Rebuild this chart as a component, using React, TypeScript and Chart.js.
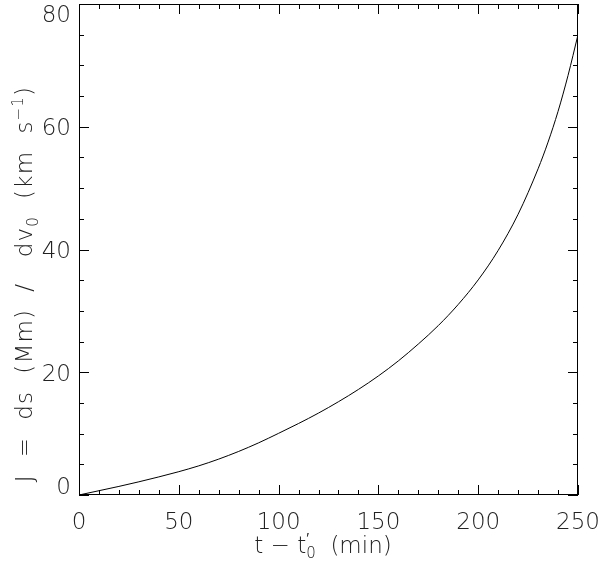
import React, { useEffect, useRef } from "react";
import { Chart, registerables } from "chart.js";

Chart.register(...registerables);

// ---- data ----
const tValues = [0, 10, 20, 30, 40, 50, 60, 70, 80, 90, 100, 110, 120, 130, 140, 150, 160, 170, 180, 190, 200, 210, 220, 230, 235, 240, 245, 250];
const jValues = [0, 0.7, 1.4, 2.15, 2.95, 3.8, 4.75, 5.85, 7.1, 8.5, 10.05, 11.65, 13.35, 15.2, 17.2, 19.4, 21.85, 24.6, 27.6, 31.05, 35.05, 39.85, 45.75, 53.15, 57.5, 62.5, 68.35, 75.0];

const xTickValues = [0, 50, 100, 150, 200, 250];
const xTickLabels = ["0", "50", "100", "150", "200", "250"];
const yTickValues = [0, 20, 40, 60, 80];
const yTickLabels = ["0", "20", "40", "60", "80"];
const xMinorStep = 10;
const yMinorStep = 5;
const xRange = [0, 250];
const yRange = [0, 80];

// rich text pieces: [text, kind]
const yTitleParts: [string, string][] = [
  ["J  =  ds  (Mm)  /   dv", "n"],
  ["0", "sub"],
  ["  (km  s", "n"],
  ["\u22121", "sup"],
  [")", "n"],
];
const xTitleParts: [string, string][] = [
  ["t \u2212 t", "n"],
  ["\u2032", "supPrime"],
  ["0", "subPrime"],
  ["  (min)", "n"],
];

const FONT_FAMILY = '"DejaVu Sans", "Liberation Sans", sans-serif';
const FONT_SIZE = 23;
const TEXT_COLOR = "#222";

function fontOf(size: number) {
  return `200 ${size}px ${FONT_FAMILY}`;
}

function partMetrics(ctx: CanvasRenderingContext2D, parts: [string, string][]) {
  let total = 0;
  const items = parts.map(([t, kind]) => {
    const size = kind === "n" ? FONT_SIZE : Math.round(FONT_SIZE * 0.66);
    ctx.font = fontOf(size);
    const w = ctx.measureText(t).width;
    let dy = 0;
    if (kind === "sub") dy = 6;
    if (kind === "sup") dy = -9;
    if (kind === "supPrime") dy = -10;
    if (kind === "subPrime") dy = 5;
    const item = { t, size, w, dy, x: total, kind };
    if (kind !== "supPrime") total += w;
    return item;
  });
  return { items, total };
}

function drawRich(ctx: CanvasRenderingContext2D, parts: [string, string][], cx: number, baseline: number, spacing = 0) {
  (ctx as any).letterSpacing = `${spacing}px`;
  const { items, total } = partMetrics(ctx, parts);
  const start = cx - total / 2;
  ctx.textAlign = "left";
  ctx.textBaseline = "alphabetic";
  for (const it of items) {
    ctx.font = fontOf(it.size);
    ctx.fillText(it.t, start + it.x, baseline + it.dy);
  }
  (ctx as any).letterSpacing = "0px";
}

const idlAxesPlugin = {
  id: "idlAxes",
  afterDraw(chart: any) {
    const { ctx, chartArea: a, scales } = chart;
    const xs = scales.x;
    const ys = scales.y;
    ctx.save();
    ctx.strokeStyle = "#000";
    ctx.lineWidth = 1;
    ctx.strokeRect(a.left + 0.5, a.top + 0.5, a.right - a.left - 1, a.bottom - a.top - 1);

    ctx.beginPath();
    for (let v = xRange[0]; v <= xRange[1] + 1e-9; v += xMinorStep) {
      const px = Math.round(xs.getPixelForValue(v)) + 0.5;
      const len = xTickValues.includes(v) ? 10 : 5;
      ctx.moveTo(px, a.bottom);
      ctx.lineTo(px, a.bottom - len);
      ctx.moveTo(px, a.top);
      ctx.lineTo(px, a.top + len);
    }
    for (let v = yRange[0]; v <= yRange[1] + 1e-9; v += yMinorStep) {
      const py = Math.round(ys.getPixelForValue(v)) + 0.5;
      const len = yTickValues.includes(v) ? 10 : 5;
      ctx.moveTo(a.left, py);
      ctx.lineTo(a.left + len, py);
      ctx.moveTo(a.right, py);
      ctx.lineTo(a.right - len, py);
    }
    ctx.stroke();

    ctx.fillStyle = TEXT_COLOR;
    ctx.font = fontOf(FONT_SIZE);
    ctx.textAlign = "center";
    ctx.textBaseline = "alphabetic";
    xTickValues.forEach((v, i) => {
      ctx.fillText(xTickLabels[i], xs.getPixelForValue(v), a.bottom + 34);
    });
    ctx.textAlign = "right";
    const h = 17;
    yTickValues.forEach((v, i) => {
      let cy = ys.getPixelForValue(v);
      cy = Math.max(a.top + h / 2 + 1, Math.min(a.bottom - h / 2 - 1, cy));
      ctx.fillText(yTickLabels[i], a.left - 8, cy + h / 2);
    });

    drawRich(ctx, xTitleParts, 323, 553);
    ctx.save();
    ctx.translate(32, 284);
    ctx.rotate(-Math.PI / 2);
    drawRich(ctx, yTitleParts, 0, 0, 1.2);
    ctx.restore();

    ctx.restore();
  },
};

export default function App() {
  const ref = useRef<HTMLCanvasElement | null>(null);
  useEffect(() => {
    if (!ref.current) return;
    const chart = new Chart(ref.current, {
      type: "line",
      data: {
        datasets: [
          {
            data: tValues.map((t, i) => ({ x: t, y: jValues[i] })),
            borderColor: "#000",
            borderWidth: 1,
            pointRadius: 0,
            fill: false,
            cubicInterpolationMode: "monotone",
          },
        ],
      },
      options: {
        animation: false,
        responsive: false,
        maintainAspectRatio: false,
        layout: { padding: { left: 79, right: 22, top: 4, bottom: 69 } },
        plugins: { legend: { display: false }, tooltip: { enabled: false } },
        scales: {
          x: { type: "linear", min: xRange[0], max: xRange[1], display: false },
          y: { type: "linear", min: yRange[0], max: yRange[1], display: false },
        },
      },
      plugins: [idlAxesPlugin],
    } as any);
    return () => chart.destroy();
  }, []);
  return (
    <div style={{ position: "fixed", left: 0, top: 0, width: 600, height: 564, background: "#fff" }}>
      <canvas ref={ref} width={600} height={564} style={{ display: "block", width: 600, height: 564 }} />
    </div>
  );
}
